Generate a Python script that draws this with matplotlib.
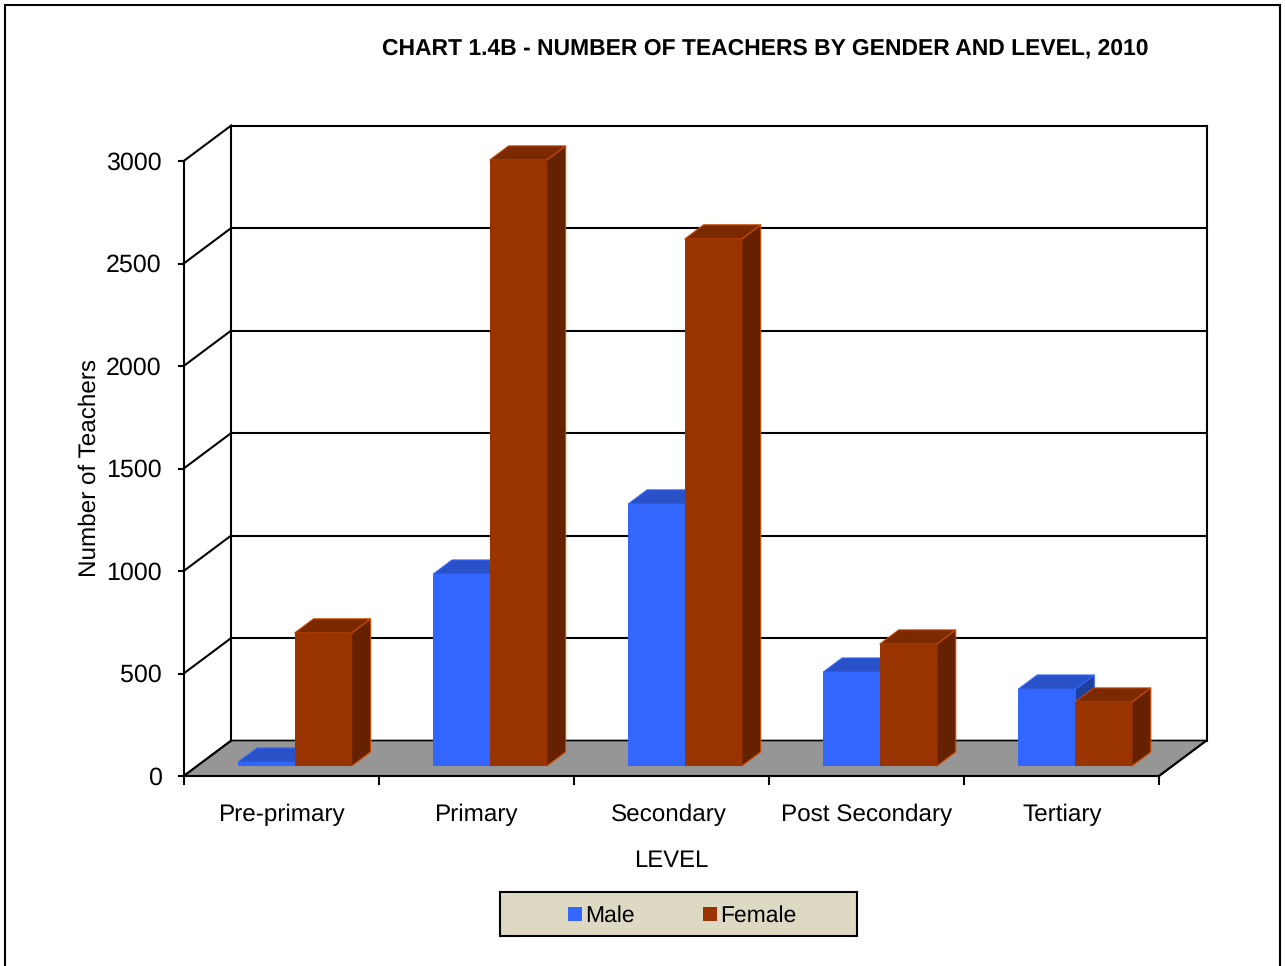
import matplotlib
matplotlib.use("Agg")
import matplotlib.pyplot as plt
from matplotlib.patches import Polygon, Rectangle

levels = ["Pre-primary", "Primary", "Secondary", "Post Secondary", "Tertiary"]
male = [19, 936, 1278, 458, 375]
female = [649, 2956, 2571, 595, 312]
y_ticks = [0, 500, 1000, 1500, 2000, 2500, 3000]

plt.rcParams["font.family"] = ["Liberation Sans", "DejaVu Sans"]
plt.rcParams["text.hinting"] = "no_hinting"

W, H = 1285, 966
fig = plt.figure(figsize=(W / 100, H / 100), dpi=100)
fig.add_artist(Rectangle((5 / W, -0.01), 1275 / W, 1.01 - 5 / H, transform=fig.transFigure,
                         fc="white", ec="black", lw=1.5, zorder=-1))

# front plane of the fake 3d box, back wall is shifted by DX, DY
ax = fig.add_axes([183.7 / W, 1 - 776 / H, 975.3 / W, 615 / H])
ax.set_xlim(0, 5)
ax.set_ylim(0, 3000)
ax.axis("off")
DX = 47.5 / 195
DY = 35.5 / 0.205


def pt(x, v, d=0.0):
    return (x + d * DX, v + d * DY)


def poly(points, fc, ec="none", lw=0.0, z=2):
    ax.add_patch(Polygon(points, closed=True, fc=fc, ec=ec, lw=lw, zorder=z, clip_on=False))


def line(a, b, lw=1.5, z=1):
    ax.plot([a[0], b[0]], [a[1], b[1]], color="black", lw=lw, zorder=z, clip_on=False,
            solid_capstyle="projecting")


# floor
poly([pt(0, 0), pt(5, 0), pt(5, 0, 1), pt(0, 0, 1)], "#969696", ec="black", lw=1.2, z=1)

# walls and gridlines
for t in y_ticks:
    if t > 0:
        line(pt(0, t, 1), pt(5, t, 1))
    line(pt(0, t), pt(0, t, 1))
line(pt(0, 0, 1), pt(0, 3000, 1))
line(pt(5, 0, 1), pt(5, 3000, 1))
line(pt(0, 0), pt(0, 3000))
line(pt(5, 0), pt(5, 0, 1))

# axis ticks
for t in y_ticks:
    line((-5 / 195, t), (0, t))
    ax.text(-22 / 195, t - 10, str(t), ha="right", va="center", fontsize=18, clip_on=False)
label_x = [0.5, 1.495, 2.485, 3.5, 4.505]
for i in range(6):
    line((i, 0), (i, -8 / 0.205))
for x, name in zip(label_x, levels):
    ax.text(x, -190, name, ha="center", va="center", fontsize=17.5)
line((0, 0), (5, 0))

# bars
d0, d1 = 0.28, 0.68
bar_w = 57 / 195
edge = "#c84a00"
series = [(male, -bar_w + 0.5 / 195, "#3366ff", "#2a52c8", "#1f3f9c"),
          (female, 0.0, "#993300", "#7a2900", "#662200")]
for i in range(5):
    for vals, off, front, top, side in series:
        x0 = i + 0.5 + off
        x1 = x0 + bar_w
        v = vals[i]
        side_ec = edge if off == 0 else front
        poly([pt(x1, 0, d0), pt(x1, 0, d1), pt(x1, v, d1), pt(x1, v, d0)], side, side_ec, 0.8, z=3)
        poly([pt(x0, v, d0), pt(x1, v, d0), pt(x1, v, d1), pt(x0, v, d1)], top, side_ec, 0.8, z=3)
        poly([pt(x0, 0, d0), pt(x1, 0, d0), pt(x1, v, d0), pt(x0, v, d0)], front, z=4)

# text
fig.text(765 / W, 1 - 48 / H, "CHART 1.4B - NUMBER OF TEACHERS BY GENDER AND LEVEL, 2010",
         ha="center", va="center", fontsize=16.5, fontweight="bold")
fig.text(89.5 / W, 1 - 468 / H, "Number of Teachers", rotation=90, ha="center", va="center", fontsize=17.5)
fig.text(671.5 / W, 1 - 861 / H, "LEVEL", ha="center", va="center", fontsize=17.2)

# legend box
fig.add_artist(Rectangle((500 / W, 1 - 936 / H), 357 / W, 44 / H, transform=fig.transFigure,
                         fc="#ddd9c3", ec="black", lw=1.5))
for sx, tx, label, col in [(568, 585.5, "Male", "#3366ff"), (703, 720, "Female", "#993300")]:
    fig.add_artist(Rectangle((sx / W, 1 - 921 / H), 14 / W, 14 / H, transform=fig.transFigure, fc=col, ec="none"))
    fig.text(tx / W, 1 - 916 / H, label, ha="left", va="center", fontsize=16.5)

fig.savefig("out.png", dpi=100)
